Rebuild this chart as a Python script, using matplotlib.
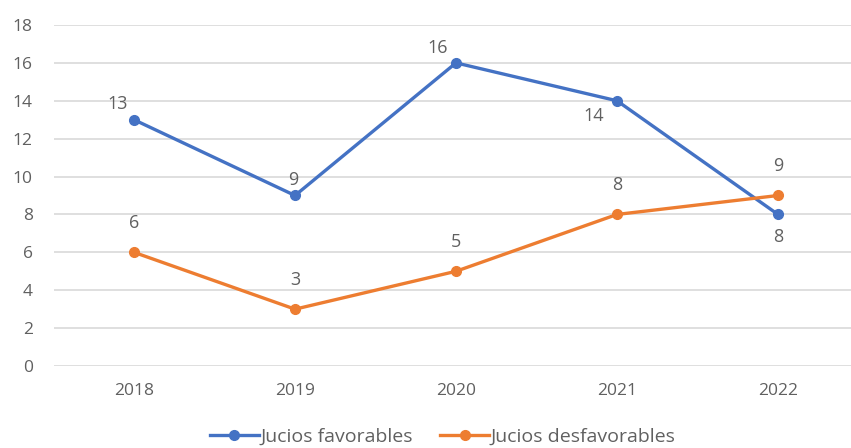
import matplotlib
matplotlib.use("Agg")
import matplotlib.pyplot as plt

years = ["2018", "2019", "2020", "2021", "2022"]
favorables = [13, 9, 16, 14, 8]
desfavorables = [6, 3, 5, 8, 9]
yticks = [0, 2, 4, 6, 8, 10, 12, 14, 16, 18]

BLUE = "#4472C4"
ORANGE = "#ED7D31"
TXT = "#606060"

plt.rcParams['font.family'] = ['Open Sans', 'DejaVu Sans']

fig = plt.figure(figsize=(8.51, 4.48), dpi=100)
ax = fig.add_axes([53.5/851, (448-366)/448, (851-53.5)/851, (366-25)/448])

x = list(range(len(years)))
ax.plot(x, favorables, color=BLUE, lw=2.4, marker='o', ms=7, label="Jucios favorables", zorder=3, clip_on=False)
ax.plot(x, desfavorables, color=ORANGE, lw=2.4, marker='o', ms=7, label="Jucios desfavorables", zorder=3, clip_on=False)

fav_off = [(-16, 16), (-2, 16), (-18, 15), (-23, -15), (0, -23)]
des_off = [(0, 29), (0, 29), (0, 29), (0, 29), (0, 30)]
for i, v in enumerate(favorables):
    ax.annotate(str(v), (i, v), xytext=fav_off[i], textcoords='offset pixels',
                ha='center', va='center', fontsize=13, color=TXT)
for i, v in enumerate(desfavorables):
    ax.annotate(str(v), (i, v), xytext=des_off[i], textcoords='offset pixels',
                ha='center', va='center', fontsize=13, color=TXT)

ax.set_xlim(-0.5, (851-134)/161)
ax.set_ylim(0, 18)
ax.set_yticks(yticks)
ax.set_xticks(x)
ax.set_xticklabels(years)
ax.grid(axis='y', color='#D9D9D9', lw=1.2)
ax.set_axisbelow(True)
for s in ax.spines.values():
    s.set_visible(False)
ax.tick_params(length=0, colors=TXT, labelsize=12.5)
ax.tick_params(axis='y', pad=15)
ax.tick_params(axis='x', pad=12)

leg = fig.legend(loc='center', bbox_to_anchor=(443/851, 1 - 437/448), ncol=2, frameon=False,
                 fontsize=14, handlelength=2.5, handletextpad=0.1, columnspacing=1.4)
for t in leg.get_texts():
    t.set_color(TXT)

fig.savefig("out.png", dpi=100)
